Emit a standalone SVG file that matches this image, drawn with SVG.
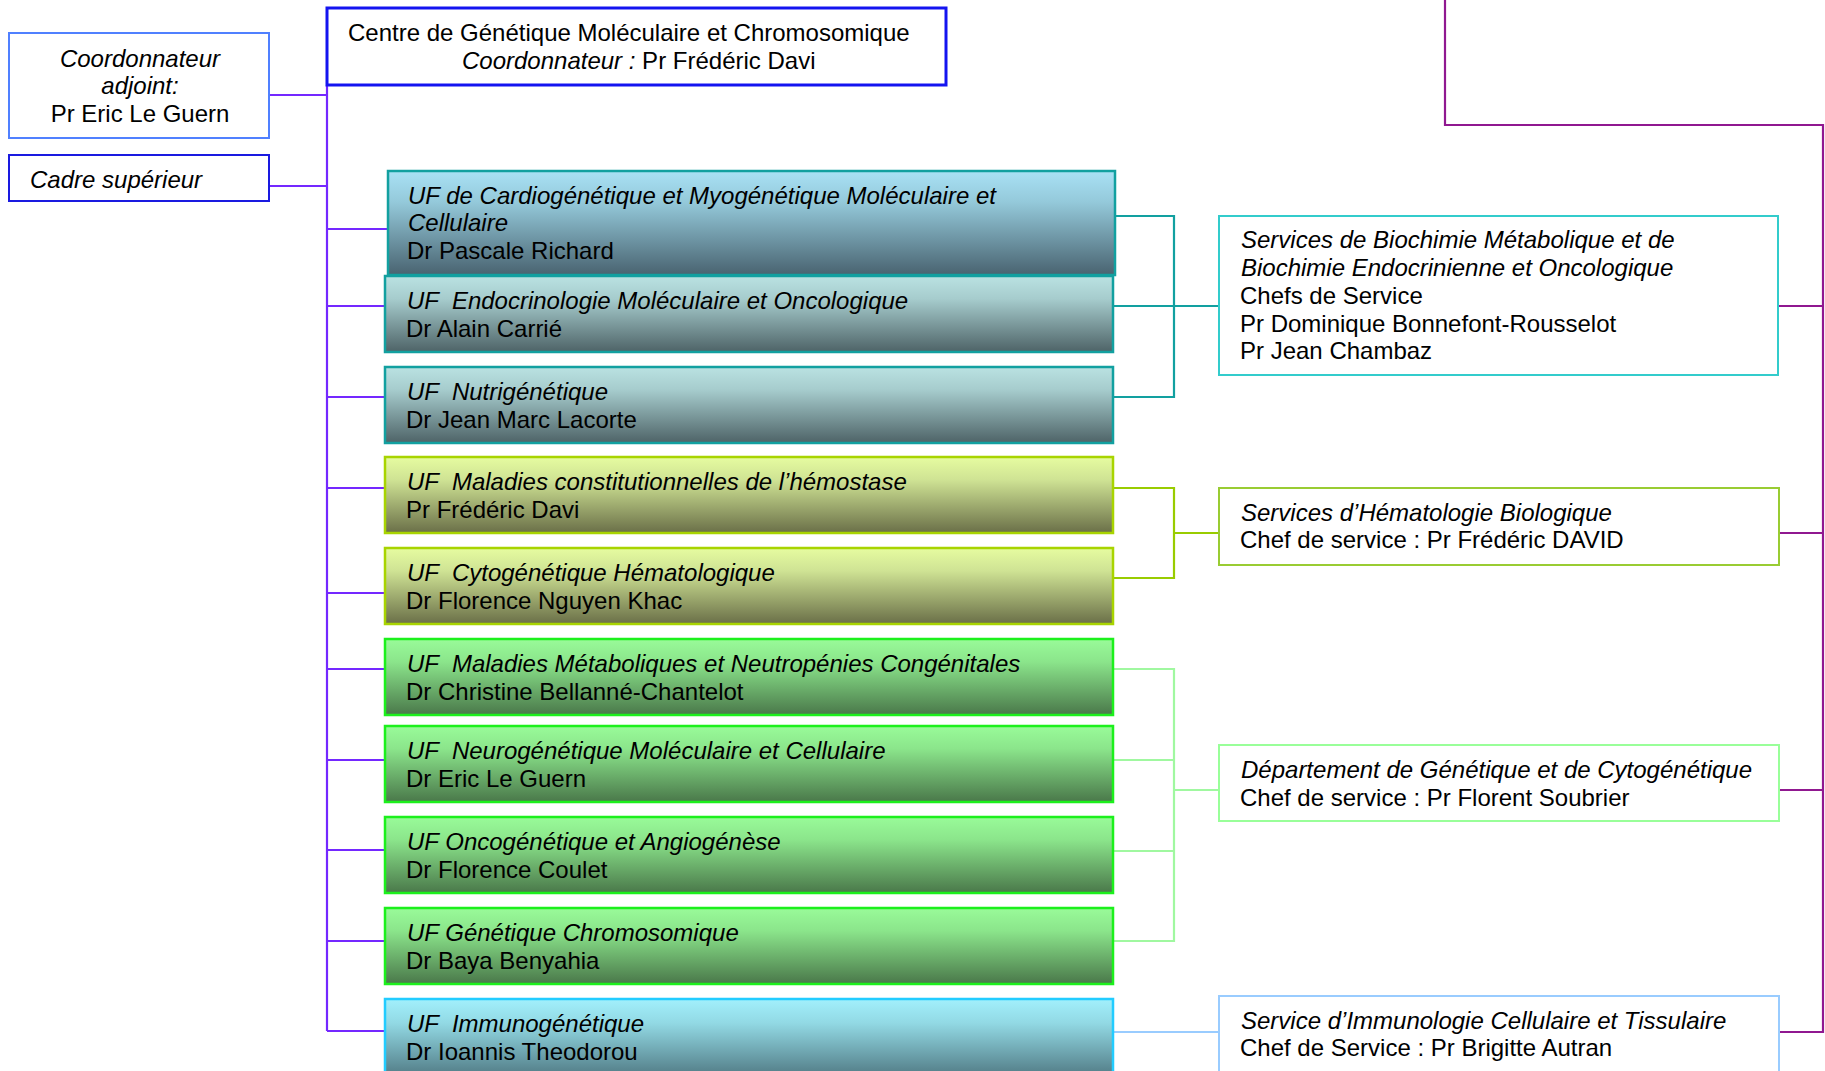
<svg xmlns="http://www.w3.org/2000/svg" width="1825" height="1071" viewBox="0 0 1825 1071">
<style>
text{font-family:"Liberation Sans",Arial,sans-serif;font-size:24px;fill:#000;white-space:pre}
.i{font-style:italic}
.c{text-anchor:middle}
.box{fill:#fff}
.uf{stroke-width:2.5}
.teal{fill:url(#gTeal1);stroke:#12a0a0}
.teal2{fill:url(#gTeal2);stroke:#12a0a0}
.yg{fill:url(#gYg);stroke:#a8d400}
.gr{fill:url(#gGr);stroke:#1cf01c}
.bl{fill:url(#gBl);stroke:#22ccff}
.cn{fill:none;stroke-width:2.2}
</style>
<defs>
<linearGradient id="gTeal1" x1="0" y1="0" x2="0" y2="1"><stop offset="0" stop-color="#a9e1f5"/><stop offset="0.3" stop-color="#94c9da"/><stop offset="1" stop-color="#496370"/></linearGradient>
<linearGradient id="gTeal2" x1="0" y1="0" x2="0" y2="1"><stop offset="0" stop-color="#bae2e2"/><stop offset="0.3" stop-color="#a6cccd"/><stop offset="1" stop-color="#4e6367"/></linearGradient>
<linearGradient id="gYg" x1="0" y1="0" x2="0" y2="1"><stop offset="0" stop-color="#e6fca0"/><stop offset="0.3" stop-color="#cfe394"/><stop offset="1" stop-color="#6a6f48"/></linearGradient>
<linearGradient id="gGr" x1="0" y1="0" x2="0" y2="1"><stop offset="0" stop-color="#99fb99"/><stop offset="0.3" stop-color="#8be58b"/><stop offset="1" stop-color="#4a784a"/></linearGradient>
<linearGradient id="gBl" x1="0" y1="0" x2="0" y2="1"><stop offset="0" stop-color="#a2f0fc"/><stop offset="0.3" stop-color="#92d9e4"/><stop offset="1" stop-color="#4e7680"/></linearGradient>
</defs>
<rect width="1825" height="1071" fill="#fff"/>

<g id="connectors">
<path class="cn" stroke="#7428ff" d="M327 85 V1031 M269 95 H327 M269 186 H327 M327 229 H388 M327 306 H385 M327 397 H385 M327 488 H385 M327 593 H385 M327 669 H385 M327 760 H385 M327 850 H385 M327 941 H385 M327 1031 H385"/>
<path class="cn" stroke="#12a0a0" d="M1115 216 H1174 V397 H1113 M1113 306 H1219"/>
<path class="cn" stroke="#99cc00" d="M1113 488 H1174 V578 H1113 M1174 533 H1219"/>
<path class="cn" stroke="#a0f8a0" d="M1113 669 H1174 V941 H1113 M1113 760 H1174 M1113 851 H1174 M1174 790 H1219"/>
<path class="cn" stroke="#99ccff" d="M1113 1032 H1219"/>
<path class="cn" stroke="#901890" d="M1445 0 V125 H1823 V1032 H1779 M1778 306 H1823 M1779 533 H1823 M1779 790 H1823"/>
</g>

<g id="n-centre">
<rect class="box" x="327" y="8" width="619" height="77" stroke="#1414f0" stroke-width="3"/>
<text x="348" y="41">Centre de Génétique Moléculaire et Chromosomique</text>
<text x="462" y="69"><tspan class="i">Coordonnateur :</tspan> Pr Frédéric Davi</text>
</g>
<g id="n-adjoint">
<rect class="box" x="9" y="33" width="260" height="105" stroke="#5080ff" stroke-width="2"/>
<text class="i c" x="140" y="67">Coordonnateur</text>
<text class="i c" x="140" y="94">adjoint:</text>
<text class="c" x="140" y="122">Pr Eric Le Guern</text>
</g>
<g id="n-cadre">
<rect class="box" x="9" y="155" width="260" height="46" stroke="#1a1ae0" stroke-width="2"/>
<text class="i" x="30" y="188">Cadre supérieur</text>
</g>

<g id="uf-cardio">
<rect class="uf teal" x="388" y="171" width="727" height="104"/>
<text class="i" x="408" y="204">UF de Cardiogénétique et Myogénétique Moléculaire et</text>
<text class="i" x="408" y="231">Cellulaire</text>
<text x="407" y="259">Dr Pascale Richard</text>
</g>
<g id="uf-endo">
<rect class="uf teal2" x="385" y="276" width="728" height="76"/>
<text class="i" x="407" y="309">UF  Endocrinologie Moléculaire et Oncologique</text>
<text x="406" y="337">Dr Alain Carrié</text>
</g>
<g id="uf-nutri">
<rect class="uf teal2" x="385" y="367" width="728" height="76"/>
<text class="i" x="407" y="400">UF  Nutrigénétique</text>
<text x="406" y="428">Dr Jean Marc Lacorte</text>
</g>
<g id="uf-hemostase">
<rect class="uf yg" x="385" y="457" width="728" height="76"/>
<text class="i" x="407" y="490">UF  Maladies constitutionnelles de l’hémostase</text>
<text x="406" y="518">Pr Frédéric Davi</text>
</g>
<g id="uf-cyto">
<rect class="uf yg" x="385" y="548" width="728" height="76"/>
<text class="i" x="407" y="581">UF  Cytogénétique Hématologique</text>
<text x="406" y="609">Dr Florence Nguyen Khac</text>
</g>
<g id="uf-metab">
<rect class="uf gr" x="385" y="639" width="728" height="76"/>
<text class="i" x="407" y="672">UF  Maladies Métaboliques et Neutropénies Congénitales</text>
<text x="406" y="700">Dr Christine Bellanné-Chantelot</text>
</g>
<g id="uf-neuro">
<rect class="uf gr" x="385" y="726" width="728" height="76"/>
<text class="i" x="407" y="759">UF  Neurogénétique Moléculaire et Cellulaire</text>
<text x="406" y="787">Dr Eric Le Guern</text>
</g>
<g id="uf-onco">
<rect class="uf gr" x="385" y="817" width="728" height="76"/>
<text class="i" x="407" y="850">UF Oncogénétique et Angiogénèse</text>
<text x="406" y="878">Dr Florence Coulet</text>
</g>
<g id="uf-chromo">
<rect class="uf gr" x="385" y="908" width="728" height="76"/>
<text class="i" x="407" y="941">UF Génétique Chromosomique</text>
<text x="406" y="969">Dr Baya Benyahia</text>
</g>
<g id="uf-immuno">
<rect class="uf bl" x="385" y="999" width="728" height="80"/>
<text class="i" x="407" y="1032">UF  Immunogénétique</text>
<text x="406" y="1060">Dr Ioannis Theodorou</text>
</g>

<g id="s-biochimie">
<rect class="box" x="1219" y="216" width="559" height="159" stroke="#33cccc" stroke-width="2"/>
<text class="i" x="1241" y="248">Services de Biochimie Métabolique et de</text>
<text class="i" x="1241" y="276">Biochimie Endocrinienne et Oncologique</text>
<text x="1240" y="304">Chefs de Service</text>
<text x="1240" y="332">Pr Dominique Bonnefont-Rousselot</text>
<text x="1240" y="359">Pr Jean Chambaz</text>
</g>
<g id="s-hematologie">
<rect class="box" x="1219" y="488" width="560" height="77" stroke="#99cc33" stroke-width="2"/>
<text class="i" x="1241" y="521">Services d’Hématologie Biologique</text>
<text x="1240" y="548">Chef de service : Pr Frédéric DAVID</text>
</g>
<g id="s-genetique">
<rect class="box" x="1219" y="745" width="560" height="76" stroke="#99ff99" stroke-width="2"/>
<text class="i" x="1241" y="778">Département de Génétique et de Cytogénétique</text>
<text x="1240" y="806">Chef de service : Pr Florent Soubrier</text>
</g>
<g id="s-immunologie">
<rect class="box" x="1219" y="996" width="560" height="85" stroke="#99ccff" stroke-width="2"/>
<text class="i" x="1241" y="1029">Service d’Immunologie Cellulaire et Tissulaire</text>
<text x="1240" y="1056">Chef de Service : Pr Brigitte Autran</text>
</g>
</svg>
